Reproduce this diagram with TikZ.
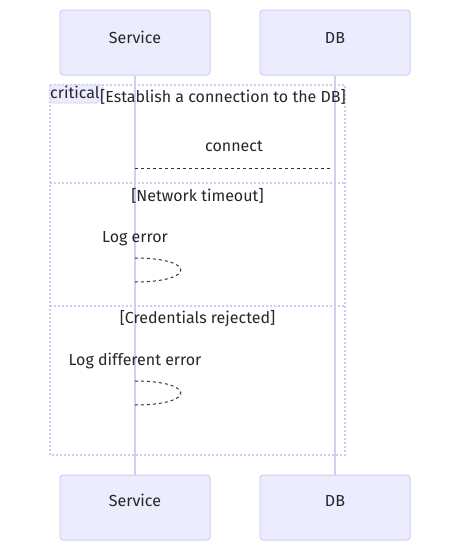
\documentclass[tikz,border=0pt]{standalone}
\usepackage{fontspec}
\setmainfont{Fira Sans}
\definecolor{actfill}{HTML}{ECECFF}
\definecolor{actline}{HTML}{D4CCF4}
\definecolor{lifec}{HTML}{D4CCF4}
\definecolor{framec}{HTML}{CCCCF0}
\definecolor{msgc}{HTML}{333333}
\begin{document}
\begin{tikzpicture}[x=1pt,y=-1pt,
  actor/.style={draw=actline,fill=actfill,rounded corners=3pt,line width=1pt,minimum width=150pt,minimum height=65pt,inner sep=0pt},
  life/.style={draw=lifec,line width=1.5pt},
  frame/.style={draw=framec,line width=2pt,dotted},
  msg/.style={draw=msgc,line width=1pt,dash pattern=on 3pt off 3pt},
  txt/.style={font=\fontsize{16}{19}\selectfont,text=black!85,inner sep=0pt}]
\useasboundingbox (0,0) rectangle (460,550);
% actors
\node[actor] (s1) at (135,42.5) {};
\node[actor] (d1) at (335,42.5) {};
\node[actor] (s2) at (135,507.5) {};
\node[actor] (d2) at (335,507.5) {};
\node[txt] (s1t) at (135,37.5) {Service};
\node[txt] (d1t) at (335,37.5) {DB};
\node[txt] (s2t) at (135,500.5) {Service};
\node[txt] (d2t) at (335,500.5) {DB};
\draw[life] (s1.south) -- (s2.north);
\draw[life] (d1.south) -- (d2.north);
% critical frame
\draw[frame] (50,85) rectangle (345,455);
\draw[frame] (50,183) -- (345,183);
\draw[frame] (50,306) -- (345,306);
\draw[draw=actline,fill=actfill,line width=0.8pt] (50,85) -- (103,85) -- (103,97) -- (97,103) -- (50,103) -- cycle;
\node[txt,anchor=west] (crit) at (50,92.5) {critical};
\node[txt] (t1) at (223,97) {[Establish a connection to the DB]};
% connect
\node[txt] (lc) at (234,146) {connect};
\coordinate (c1) at (135,168);
\coordinate (c2) at (332,168);
\draw[msg] (c1) -- (c2);
% network timeout
\node[txt] (t2) at (197.5,196) {[Network timeout]};
\node[txt] (l1) at (135,239) {Log error};
\coordinate (a1) at (135,258);
\coordinate (a2) at (135,282);
\draw[msg] (a1) .. controls (196,258) and (196,282) .. (a2);
% credentials rejected
\node[txt] (t3) at (197.5,319) {[Credentials rejected]};
\node[txt] (l2) at (135,361) {Log different error};
\coordinate (b1) at (135,381);
\coordinate (b2) at (135,405);
\draw[msg] (b1) .. controls (196,381) and (196,405) .. (b2);
\end{tikzpicture}
\end{document}
